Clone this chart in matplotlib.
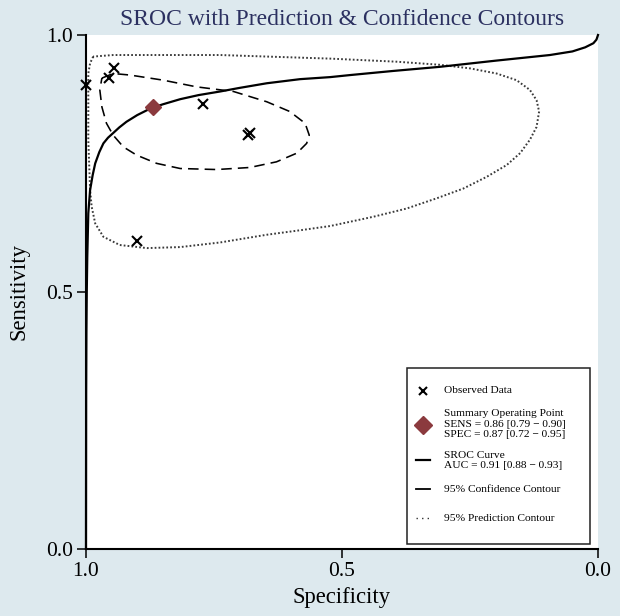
import matplotlib
matplotlib.use("Agg")
import matplotlib.pyplot as plt
from matplotlib.patches import Rectangle

plt.rcParams['font.family'] = ['Liberation Serif', 'DejaVu Serif']

# ---- data ----
obs_spec = [1.000, 0.955, 0.945, 0.771, 0.683, 0.680, 0.900]
obs_sens = [0.903, 0.916, 0.935, 0.866, 0.805, 0.809, 0.599]

summary_spec = 0.87
summary_sens = 0.86

sroc_spec = [1.000, 0.9997, 0.9992, 0.9985, 0.9975, 0.9955, 0.992, 0.987, 0.982,
             0.974, 0.966, 0.957, 0.947, 0.935, 0.921, 0.900, 0.874, 0.850,
             0.816, 0.780, 0.738, 0.700, 0.647, 0.582, 0.523, 0.484, 0.400,
             0.309, 0.200, 0.094, 0.050, 0.025, 0.009, 0.003, 0.000]
sroc_sens = [0.000, 0.300, 0.420, 0.500, 0.568, 0.653, 0.698, 0.727, 0.750,
             0.772, 0.789, 0.800, 0.809, 0.820, 0.831, 0.844, 0.857, 0.865,
             0.875, 0.883, 0.890, 0.897, 0.906, 0.914, 0.918, 0.922, 0.930,
             0.938, 0.950, 0.961, 0.968, 0.976, 0.984, 0.991, 1.000]

conf_spec = [0.969, 0.947, 0.914, 0.849, 0.784, 0.712, 0.647, 0.602, 0.572, 0.564,
             0.569, 0.588, 0.628, 0.680, 0.745, 0.816, 0.862, 0.901, 0.927, 0.947,
             0.960, 0.969, 0.973, 0.969]
conf_sens = [0.916, 0.925, 0.922, 0.912, 0.899, 0.890, 0.870, 0.851, 0.828, 0.805,
             0.789, 0.770, 0.753, 0.742, 0.738, 0.740, 0.750, 0.766, 0.782, 0.805,
             0.828, 0.860, 0.893, 0.916]

pred_spec = [0.986, 0.992, 0.9955, 0.9955, 0.992, 0.989, 0.982, 0.966, 0.934, 0.881,
             0.816, 0.738, 0.647, 0.580, 0.523, 0.439, 0.374, 0.315, 0.263, 0.217,
             0.178, 0.152, 0.133, 0.120, 0.115, 0.120, 0.133, 0.159, 0.198, 0.250,
             0.309, 0.393, 0.523, 0.738, 0.947, 0.986]
pred_sens = [0.958, 0.945, 0.925, 0.796, 0.698, 0.666, 0.633, 0.607, 0.591, 0.585,
             0.587, 0.596, 0.611, 0.620, 0.628, 0.646, 0.662, 0.682, 0.701, 0.724,
             0.747, 0.770, 0.796, 0.821, 0.851, 0.873, 0.893, 0.912, 0.925, 0.935,
             0.942, 0.948, 0.954, 0.961, 0.961, 0.958]

tick_vals = [0.0, 0.5, 1.0]
tick_labels = ["0.0", "0.5", "1.0"]

legend_rows = [
    "Observed Data",
    "Summary Operating Point\nSENS = 0.86 [0.79 \u2212 0.90]\nSPEC = 0.87 [0.72 \u2212 0.95]",
    "SROC Curve\nAUC = 0.91 [0.88 \u2212 0.93]",
    "95% Confidence Contour",
    "95% Prediction Contour",
]

# ---- styling ----
BG = '#dde9ee'
DIAMOND = '#8b3a3e'
TITLE_C = '#2b3060'

fig = plt.figure(figsize=(6.2, 6.16), dpi=100, facecolor=BG)
W, H = 620, 616
ax = fig.add_axes([86 / W, 1 - 548.5 / H, 512 / W, 513.5 / H])
ax.set_facecolor('white')

ax.plot(pred_spec, pred_sens, color='#3a3a3a', lw=1.4, dashes=(0.9, 1.1),
        zorder=2)
ax.plot(conf_spec, conf_sens, color='black', lw=1.15, dashes=(6.6, 3.8), zorder=3)
ax.plot(sroc_spec, sroc_sens, color='black', lw=1.6, zorder=4,
        solid_joinstyle='round', clip_on=False)
ax.plot(obs_spec, obs_sens, linestyle='none', marker='x', color='black',
        markersize=6.5, mew=1.5, zorder=5, clip_on=False)
ax.plot([summary_spec], [summary_sens], linestyle='none', marker='D',
        color=DIAMOND, markersize=8.5, zorder=6)

ax.set_xlim(1, 0)
ax.set_ylim(0, 1)
ax.set_xticks(tick_vals)
ax.set_xticklabels(tick_labels)
ax.set_yticks(tick_vals)
ax.set_yticklabels(tick_labels)
for s in ['top', 'right']:
    ax.spines[s].set_visible(False)
for s in ['left', 'bottom']:
    ax.spines[s].set_linewidth(1.5)
    ax.spines[s].set_color('black')
ax.tick_params(direction='out', length=6.5, width=1.1, labelsize=15.5,
               colors='black', pad=3)

ax.set_xlabel("Specificity", fontsize=16.3)
ax.set_ylabel("Sensitivity", fontsize=16.3)
ax.xaxis.label.set_va('center')
ax.yaxis.label.set_va('center')
ax.xaxis.set_label_coords(0.5, (548.5 - 597) / 513.5)
ax.yaxis.set_label_coords((19 - 86) / 512, 0.5)

fig.text(342 / W, 1 - 19.5 / H, "SROC with Prediction & Confidence Contours",
         ha='center', va='center', fontsize=17, color=TITLE_C)

# ---- legend (manual layout in axes coordinates) ----
def ax_x(px):
    return (px - 86) / 512.0

def ax_y(py):
    return (548.5 - py) / 513.5

ax.add_patch(Rectangle((ax_x(407), ax_y(544)), ax_x(590) - ax_x(407),
                       ax_y(368) - ax_y(544), transform=ax.transAxes,
                       facecolor='white', edgecolor='#222222', lw=1.1, zorder=7))
tx = ax_x(444)
kx = ax_x(423)
row_y = [390.7, 424.3, 460.2, 489.0, 518.3]
fs = 8.2
for lab, ry in zip(legend_rows, row_y):
    ax.text(tx, ax_y(ry), lab, transform=ax.transAxes, fontsize=fs,
            va='center', ha='left', linespacing=1.2, zorder=8)

ax.plot([kx], [ax_y(row_y[0])], transform=ax.transAxes, marker='x',
        color='black', markersize=6, mew=1.5, linestyle='none', zorder=8)
ax.plot([kx], [ax_y(row_y[1] + 0.7)], transform=ax.transAxes, marker='D',
        color=DIAMOND, markersize=9, linestyle='none', zorder=8)
kw = ax_x(430) - ax_x(416)
ax.plot([kx - kw / 2, kx + kw / 2], [ax_y(row_y[2])] * 2, transform=ax.transAxes,
        color='black', lw=1.6, zorder=8)
ax.plot([kx - kw / 2, kx + kw / 2], [ax_y(row_y[3])] * 2, transform=ax.transAxes,
        color='black', lw=1.3, zorder=8)
ax.plot([kx - kw / 2, kx + kw / 2], [ax_y(row_y[4])] * 2, transform=ax.transAxes,
        color='#333333', lw=1.0, dashes=(1.0, 3.0), zorder=8)

fig.savefig("out.png", dpi=100, facecolor=BG)
